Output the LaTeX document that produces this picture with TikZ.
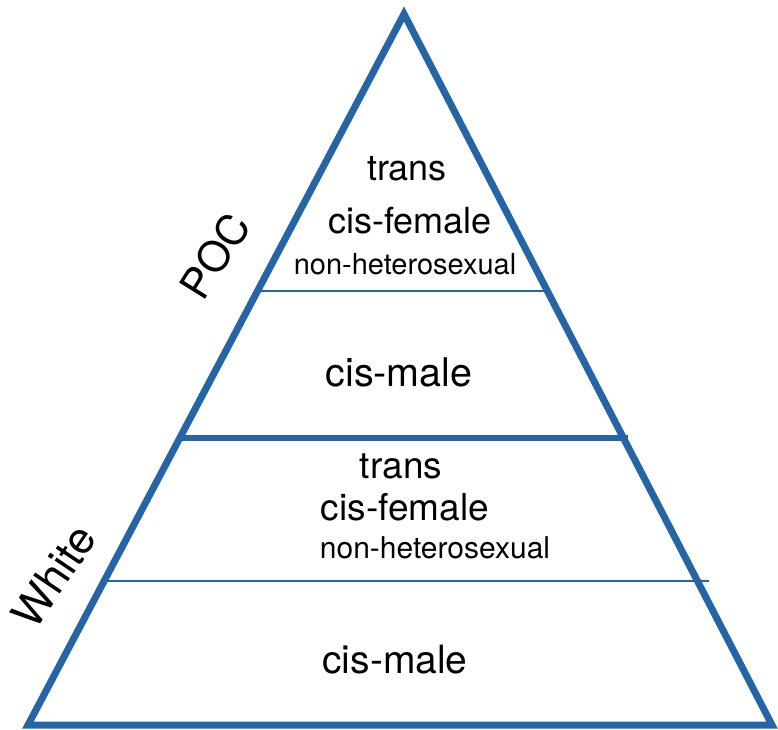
\documentclass[tikz,border=0pt]{standalone}
\usepackage{fontspec}
\setmainfont{TeX Gyre Heros}
\definecolor{pyrblue}{RGB}{37,101,165}
\newcommand{\fsize}[1]{\fontsize{#1}{#1}\selectfont}

\begin{document}
\begin{tikzpicture}[x=1pt, y=-1pt,
    outline/.style={line width=7pt, color=pyrblue, line join=miter},
    thinsep/.style={line width=2.2pt, color=pyrblue},
    thicksep/.style={line width=6.5pt, color=pyrblue},
    tiertext/.style={anchor=base, inner sep=0pt}]
			%%%%% START %%%%%
			\useasboundingbox (0,0) rectangle (778,729);
			
			\coordinate (apex) at (404,14);
			\coordinate (right) at (772,725);
			\coordinate (left) at (28,725);
			\draw[outline] (apex) -- (right) -- (left) -- cycle;
			
			\draw[thinsep] (259,291) -- (547,291);
			\draw[thicksep] (181,438) -- (628,438);
			\draw[thinsep] (106,581) -- (709,581);
			
			\node[tiertext] (pocTrans) at (407,180) {\fsize{36}trans};
			\node[tiertext] (pocFemale) at (410,233) {\fsize{36}cis-female};
			\node[tiertext] (pocNonhet) at (405,274) {\fsize{29}non-heterosexual};
			\node[tiertext] (pocMale) at (399,386) {\fsize{39.5}cis-male};
			
			\node[tiertext] (whiteTrans) at (401,478) {\fsize{37}trans};
			\node[tiertext] (whiteFemale) at (405,520) {\fsize{37}cis-female};
			\node[tiertext] (whiteNonhet) at (435,558) {\fsize{30}non-heterosexual};
			\node[tiertext] (whiteMale) at (395,673) {\fsize{39}cis-male};
			
			\node[rotate=58] (poc) at (215,256) {\fsize{42}POC};
			\node[rotate=56] (white) at (54,576) {\fsize{44}White};
			
			%%%%% END %%%%%
\end{tikzpicture}
\end{document}
